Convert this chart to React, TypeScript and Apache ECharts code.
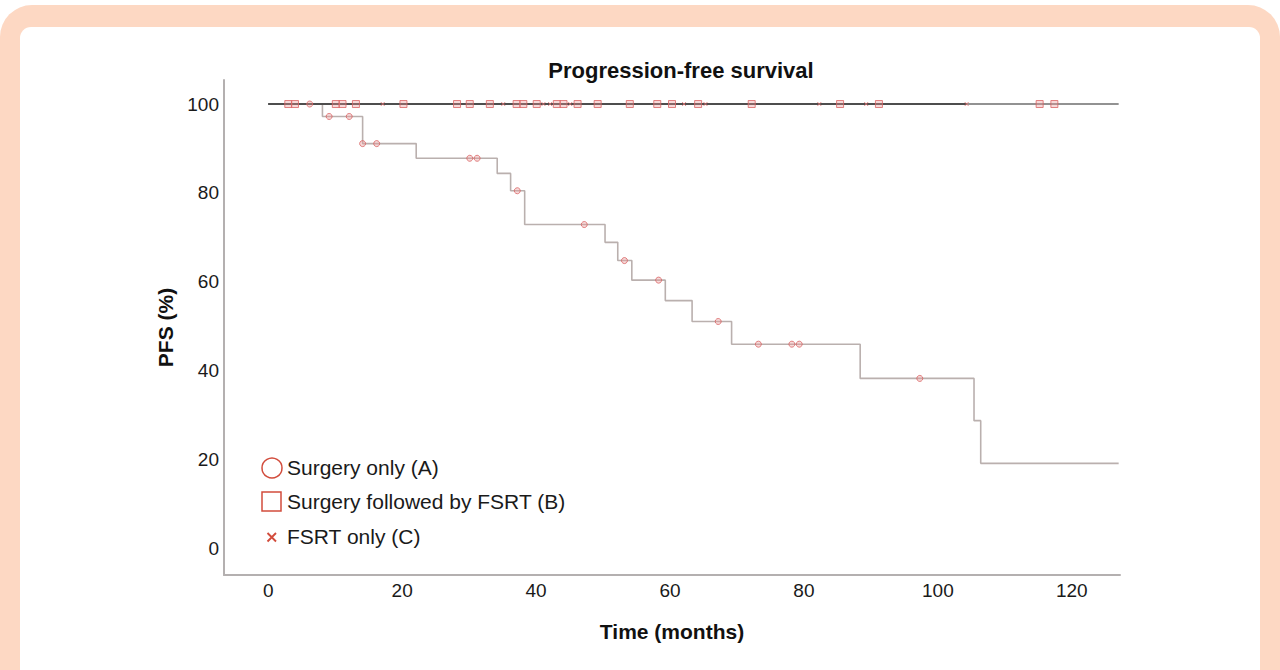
import React, { useEffect, useRef } from "react";
import * as echarts from "echarts";

// Surgery only (A): Kaplan-Meier step curve (time of drop, survival after drop)
const aTimes = [0, 8.1, 14.1, 22.1, 34.2, 36.2, 38.3, 50.3, 52.2, 54.3, 59.3, 63.3, 69.2, 88.4, 105.4, 106.4, 127];
const aSurv = [100, 97.2, 91.1, 87.8, 84.4, 80.5, 72.9, 68.9, 64.8, 60.4, 55.8, 51.1, 46.0, 38.3, 28.8, 19.2, 19.2];
// censor marks of A
const aCensorTimes = [6.2, 9.1, 12.1, 14.1, 16.2, 30.1, 31.2, 37.2, 47.2, 53.2, 58.3, 67.2, 73.2, 78.2, 79.3, 97.3];
const aCensorSurv = [100, 97.2, 97.2, 91.1, 91.1, 87.8, 87.8, 80.5, 72.9, 64.8, 60.4, 51.1, 46.0, 46.0, 46.0, 38.3];

// Surgery followed by FSRT (B): stays at 100
const bTimes = [0, 127];
const bSurv = [100, 100];
const bCensorTimes = [3.0, 4.0, 10.1, 11.1, 13.1, 20.2, 28.2, 30.1, 33.1, 37.1, 38.1, 40.1, 43.1, 44.1, 46.2, 49.2, 54.0, 58.1, 60.3, 64.2, 72.2, 85.4, 91.2, 115.2, 117.4];

// FSRT only (C): stays at 100
const cTimes = [0, 104.3];
const cSurv = [100, 100];
const cCensorTimes = [17.1, 35.1, 41.1, 42.1, 45.1, 62.1, 65.3, 82.3, 89.3, 104.3];

const xTicks = [0, 20, 40, 60, 80, 100, 120];
const yTicks = [0, 20, 40, 60, 80, 100];

const legendNames = ["Surgery only (A)", "Surgery followed by FSRT (B)", "FSRT only (C)"];

const FONT = "'Liberation Sans', Arial, Helvetica, sans-serif";
const RED = "#d24c3c";

echarts.graphic.registerShape(
  "legendX",
  echarts.graphic.extendPath("M0,0L10,10M10,0L0,10", {})
);

export default function App() {
  const ref = useRef<HTMLDivElement>(null);

  useEffect(() => {
    if (!ref.current) return;
    const chart = echarts.init(ref.current, null, { renderer: "svg" });
    const zip = (t: number[], v: number[]) => t.map((x, i) => [x, v[i]]);
    const censorStyle = {
      color: "rgba(236,150,150,0.45)",
      borderColor: "#d96464",
      borderWidth: 1,
    };
    chart.setOption({
      animation: false,
      title: {
        text: "Progression-free survival",
        left: 676,
        textAlign: "center",
        top: 54,
        textStyle: { fontFamily: FONT, fontSize: 22, fontWeight: "bold", color: "#111" },
      },
      grid: { left: 224, right: 160, top: 80, bottom: 95 },
      xAxis: {
        type: "value",
        min: -6.6,
        max: 127.2,
        name: "Time (months)",
        nameLocation: "middle",
        nameGap: 46,
        nameTextStyle: { fontFamily: FONT, fontSize: 21, fontWeight: "bold", color: "#111" },
        axisLine: { show: true, onZero: false, lineStyle: { color: "#b4b0b0", width: 2 } },
        axisTick: { show: false },
        splitLine: { show: false },
        axisLabel: {
          customValues: xTicks,
          fontFamily: FONT,
          fontSize: 19,
          color: "#1a1a1a",
          margin: 6,
        },
      },
      yAxis: {
        type: "value",
        min: -5.9,
        max: 105.4,
        name: "PFS (%)",
        nameLocation: "middle",
        nameGap: 45,
        nameTextStyle: { fontFamily: FONT, fontSize: 21, fontWeight: "bold", color: "#111" },
        axisLine: { show: true, onZero: false, lineStyle: { color: "#b4b0b0", width: 2 } },
        axisTick: { show: false },
        splitLine: { show: false },
        axisLabel: {
          customValues: yTicks,
          fontFamily: FONT,
          fontSize: 19,
          color: "#1a1a1a",
          margin: 5,
        },
      },
      series: [
        {
          name: "A curve",
          type: "line",
          step: "end",
          data: zip(aTimes, aSurv),
          symbol: "none",
          lineStyle: { color: "#bab0ae", width: 1.6 },
          z: 2,
        },
        {
          name: "B curve",
          type: "line",
          data: zip(bTimes, bSurv),
          symbol: "none",
          lineStyle: { color: "#929292", width: 2 },
          z: 2,
        },
        {
          name: "C curve",
          type: "line",
          data: zip(cTimes, cSurv),
          symbol: "none",
          lineStyle: { color: "#4e4e4e", width: 2 },
          z: 3,
        },
        {
          name: legendNames[0],
          type: "scatter",
          data: zip(aCensorTimes, aCensorSurv),
          symbol: "circle",
          symbolSize: 6,
          itemStyle: censorStyle,
          z: 5,
        },
        {
          name: legendNames[1],
          type: "scatter",
          data: bCensorTimes.map((t) => [t, 100]),
          symbol: "rect",
          symbolSize: 7,
          itemStyle: censorStyle,
          z: 5,
        },
        {
          name: legendNames[2],
          type: "scatter",
          data: cCensorTimes.map((t) => [t, 100]),
          symbol: "path://M0,0L10,10M10,0L0,10",
          symbolSize: 4,
          itemStyle: { color: "none", borderColor: "#e07070", borderWidth: 1 },
          z: 5,
        },
      ],
      graphic: [
        {
          type: "circle",
          shape: { cx: 272, cy: 468, r: 10 },
          style: { fill: "none", stroke: RED, lineWidth: 1.5 },
        },
        {
          type: "rect",
          shape: { x: 262, y: 492, width: 19, height: 19 },
          style: { fill: "none", stroke: RED, lineWidth: 1.5 },
        },
        {
          type: "legendX",
          x: 267.5,
          y: 533,
          scaleX: 0.85,
          scaleY: 0.85,
          style: { fill: "none", stroke: RED, lineWidth: 2.2 },
        },
        {
          type: "text",
          x: 287,
          y: 467,
          style: { text: legendNames[0], font: `21px ${FONT}`, fill: "#1a1a1a", verticalAlign: "middle" },
        },
        {
          type: "text",
          x: 287,
          y: 501,
          style: { text: legendNames[1], font: `21px ${FONT}`, fill: "#1a1a1a", verticalAlign: "middle" },
        },
        {
          type: "text",
          x: 287,
          y: 536,
          style: { text: legendNames[2], font: `21px ${FONT}`, fill: "#1a1a1a", verticalAlign: "middle" },
        },
      ],
    });
    return () => chart.dispose();
  }, []);

  return (
    <div style={{ position: "absolute", left: 0, top: 0, width: 1280, height: 670, overflow: "hidden", background: "#fff" }}>
      <div style={{ position: "absolute", left: 0, top: 5, width: 1280, height: 720, borderRadius: 32, background: "#fdd8c3" }} />
      <div style={{ position: "absolute", left: 20, top: 27, width: 1240, height: 700, borderRadius: 11, background: "#fff" }} />
      <div ref={ref} style={{ position: "absolute", left: 0, top: 0, width: 1280, height: 670 }} />
    </div>
  );
}
